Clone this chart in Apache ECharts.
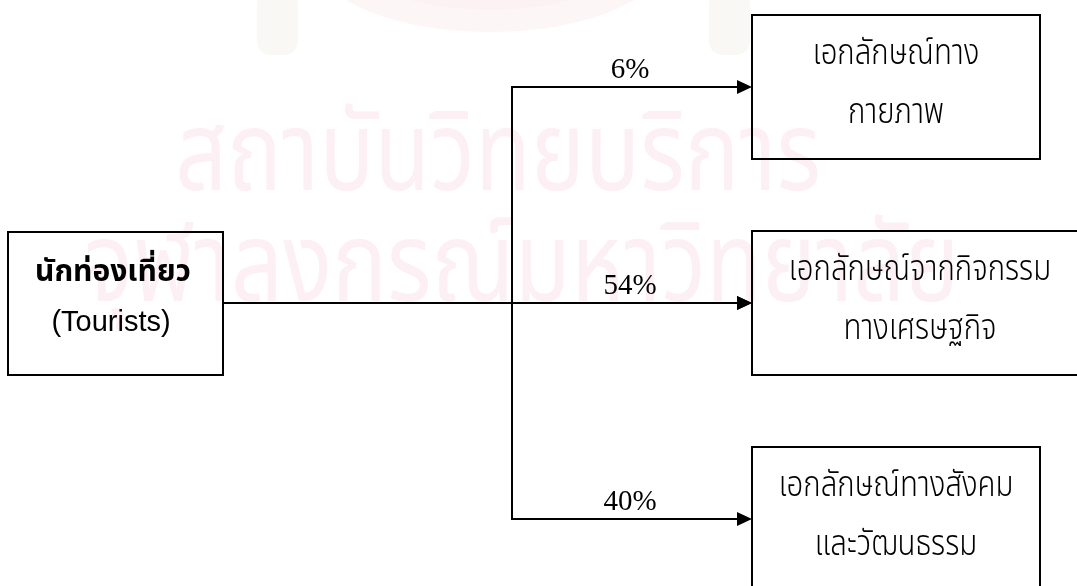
<!DOCTYPE html>
<html>
<head>
<meta charset="utf-8">
<script src="https://cdn.jsdelivr.net/npm/echarts@6/dist/echarts.min.js"></script>
<style>
html,body{margin:0;padding:0;background:#fff;}
#main{width:1077px;height:586px;}
</style>
</head>
<body>
<div id="main"></div>
<script>
// ---- data ----
const sourceLabel = ['นักท่องเที่ยว', '(Tourists)'];
const targetLine1 = ['เอกลักษณ์ทาง', 'เอกลักษณ์จากกิจกรรม', 'เอกลักษณ์ทางสังคม'];
const targetLine2 = ['กายภาพ', 'ทางเศรษฐกิจ', 'และวัฒนธรรม'];
const sharePercent = [6, 54, 40];
const watermarkLines = ['สถาบันวิทยบริการ', 'จุฬาลงกรณ์มหาวิทยาลัย'];

const THAI = '"Noto Sans Thai","Noto Sans Thai Looped","Loma","Garuda","Norasi","Waree","DejaVu Sans","Noto Sans",sans-serif';
const chart = echarts.init(document.getElementById('main'), null, {renderer: 'canvas'});

// layout: rows 216px apart, middle row at y=303 (grid spans the whole canvas)
const ROW = 216, MID = 303, H = 586;
const yMin = 1 - MID / ROW, yMax = 1 + (H - MID) / ROW;
// box widths per row (middle box runs off the right edge in the original)
const boxRight = [1040, 1088, 1040];

function thaiText(x, y, text, size, sx) {
  return {type: 'text', x: x, y: y, scaleX: sx, scaleY: 1,
    style: {text: text, font: '300 ' + size + 'px ' + THAI, fill: '#000', textAlign: 'center', textVerticalAlign: 'middle'}};
}

function targetItem(params, api) {
  const i = api.value(1);
  const pct = api.value(0);
  const cy = Math.round(api.coord([0, i])[1]);
  const X = v => api.coord([v, i])[0];
  const cx = (X(752) + X(boxRight[i])) / 2;
  return {
    type: 'group',
    children: [
      {type: 'line', shape: {x1: X(512), y1: cy, x2: X(740), y2: cy}, style: {stroke: '#000', lineWidth: 2}},
      {type: 'polygon', shape: {points: [[X(737), cy - 7], [X(752), cy], [X(737), cy + 7]]}, style: {fill: '#000'}},
      {type: 'rect', shape: {x: X(752), y: cy - 72, width: X(boxRight[i]) - X(752), height: 144}, style: {fill: 'none', stroke: '#000', lineWidth: 2}},
      {type: 'text', x: X(630), y: cy - 17, style: {text: pct + '%', font: '29px "Liberation Serif", "Times New Roman", serif', fill: '#000', textAlign: 'center', textVerticalAlign: 'middle'}},
      thaiText(cx, cy - 30, targetLine1[i], 35, 0.84),
      thaiText(cx, cy + 29, targetLine2[i], 35, 0.84)
    ]
  };
}

function sourceItem(params, api) {
  const i = api.value(1);
  const cy = Math.round(api.coord([0, i])[1]);
  const X = v => api.coord([v, i])[0];
  const yTop = Math.round(api.coord([0, 0])[1]);
  const yBot = Math.round(api.coord([0, targetLine1.length - 1])[1]);
  return {
    type: 'group',
    children: [
      {type: 'rect', shape: {x: X(8), y: cy - 71, width: X(223) - X(8), height: 143}, style: {fill: 'none', stroke: '#000', lineWidth: 2}},
      {type: 'line', shape: {x1: X(223), y1: cy, x2: X(740), y2: cy}, style: {stroke: '#000', lineWidth: 2}},
      {type: 'polygon', shape: {points: [[X(737), cy - 7], [X(752), cy], [X(737), cy + 7]]}, style: {fill: '#000'}},
      {type: 'line', shape: {x1: X(512), y1: yTop - 1, x2: X(512), y2: yBot + 1}, style: {stroke: '#000', lineWidth: 2}},
      {type: 'text', x: X(113), y: cy - 28, style: {text: sourceLabel[0], font: 'bold 30px ' + THAI, fill: '#000', textAlign: 'center', textVerticalAlign: 'middle'}},
      {type: 'text', x: X(111), y: cy + 20, style: {text: sourceLabel[1], font: '29px "Liberation Sans", Arial, sans-serif', fill: '#000', textAlign: 'center', textVerticalAlign: 'middle'}}
    ]
  };
}

chart.setOption({
  animation: false,
  backgroundColor: '#fff',
  graphic: [
    // very faint emblem remnants at the top
    {type: 'ellipse', z: -20, silent: true, shape: {cx: 490, cy: -45, rx: 178, ry: 77}, style: {fill: '#fdf6f7'}},
    {type: 'ellipse', z: -19, silent: true, shape: {cx: 490, cy: -50, rx: 145, ry: 60}, style: {fill: '#fcf2f4'}},
    {type: 'rect', z: -20, silent: true, shape: {x: 257, y: -10, width: 41, height: 65, r: 14}, style: {fill: '#faf8f4'}},
    {type: 'rect', z: -20, silent: true, shape: {x: 709, y: -10, width: 41, height: 65, r: 14}, style: {fill: '#faf8f4'}},
    // faint watermark text
    {type: 'text', x: 498, y: 168, scaleX: 0.83, z: -10, silent: true,
     style: {text: watermarkLines[0], font: '110px ' + THAI, fill: '#fcf0f4', textAlign: 'center', textVerticalAlign: 'middle'}},
    {type: 'text', x: 522, y: 279, scaleX: 0.83, z: -10, silent: true,
     style: {text: watermarkLines[1], font: '110px ' + THAI, fill: '#fcf0f4', textAlign: 'center', textVerticalAlign: 'middle'}}
  ],
  grid: {left: 0, top: 0, right: 0, bottom: 0, containLabel: false},
  xAxis: {type: 'value', min: 0, max: 1077, show: false},
  yAxis: {type: 'value', min: yMin, max: yMax, inverse: true, show: false},
  series: [
    {type: 'custom', name: 'source', renderItem: sourceItem, data: [[0, 1]], silent: true, clip: false, z: 2},
    {type: 'custom', name: 'targets', renderItem: targetItem, data: sharePercent.map((v, i) => [v, i]), silent: true, clip: false, z: 3}
  ]
});
</script>
</body>
</html>
